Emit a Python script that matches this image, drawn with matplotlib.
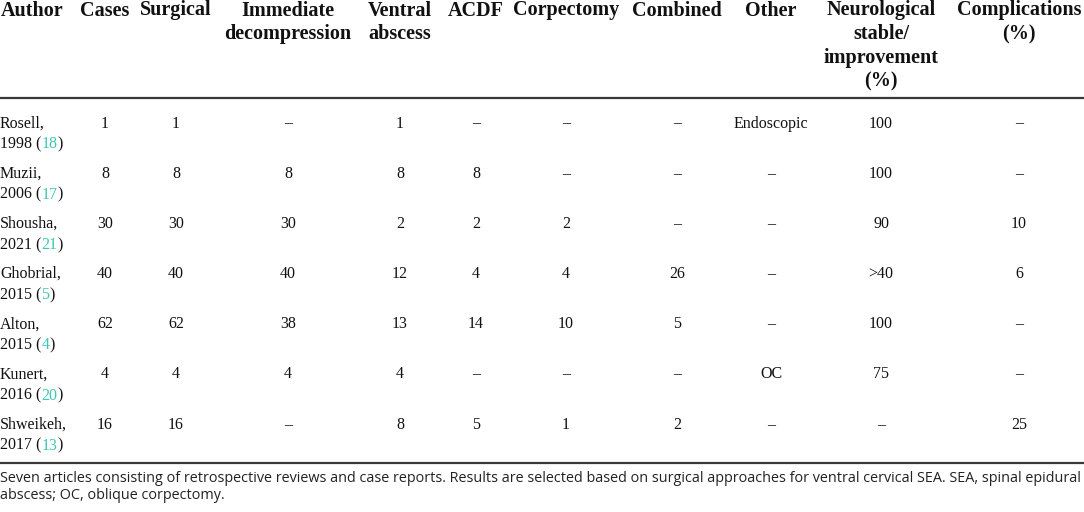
import matplotlib
matplotlib.use("Agg")
import matplotlib.pyplot as plt

# ---------------- data ----------------
headers = [
    ["Author"],
    ["Cases"],
    ["Surgical"],
    ["Immediate", "decompression"],
    ["Ventral", "abscess"],
    ["ACDF"],
    ["Corpectomy"],
    ["Combined"],
    ["Other"],
    ["Neurological", "stable/", "improvement", "(%)"],
    ["Complications", "(%)"],
]
authors = ["Rosell,", "Muzii,", "Shousha,", "Ghobrial,", "Alton,", "Kunert,", "Shweikeh,"]
years = ["1998", "2006", "2021", "2015", "2015", "2016", "2017"]
refs = ["18", "17", "21", "5", "4", "20", "13"]
cases = ["1", "8", "30", "40", "62", "4", "16"]
surgical = ["1", "8", "30", "40", "62", "4", "16"]
immediate = ["–", "8", "30", "40", "38", "4", "–"]
ventral = ["1", "8", "2", "12", "13", "4", "8"]
acdf = ["–", "8", "2", "4", "14", "–", "5"]
corpectomy = ["–", "–", "2", "4", "10", "–", "1"]
combined = ["–", "–", "–", "26", "5", "–", "2"]
other = ["Endoscopic", "–", "–", "–", "–", "OC", "–"]
neuro = ["100", "100", "90", ">40", "100", "75", "–"]
complications = ["–", "–", "10", "6", "–", "–", "25"]
footnote = [
    "Seven articles consisting of retrospective reviews and case reports. Results are selected based on surgical approaches for ventral cervical SEA. SEA, spinal epidural",
    "abscess; OC, oblique corpectomy.",
]

columns = [cases, surgical, immediate, ventral, acdf, corpectomy, combined, other, neuro, complications]

# ---------------- layout ----------------
W, H = 1084, 512
fig = plt.figure(figsize=(W / 100, H / 100), dpi=100)
ax = fig.add_axes([0, 0, 1, 1])
ax.set_xlim(0, W)
ax.set_ylim(H, 0)
ax.axis("off")

serif = ["Liberation Serif", "DejaVu Serif"]
sans = ["Open Sans", "DejaVu Sans"]
teal = "#3cc8b4"
ink = "#111111"
col_x = [0, 105, 176, 288, 400, 476, 566, 677, 771, 881, 1019]
head_base = [15.5, 39, 62.5, 86]
row_base0 = 127.5
row_pitch = 50.2
line2 = 21
data_fs = 11.5
head_fs = 14.5

# header
for ci, lines in enumerate(headers):
    for li, txt in enumerate(lines):
        if ci == 0:
            ax.text(col_x[ci] + 1, head_base[li], txt, ha="left", va="baseline",
                    fontsize=head_fs, fontweight="bold", family=serif, color=ink)
        else:
            ax.text(col_x[ci], head_base[li], txt, ha="center", va="baseline",
                    fontsize=head_fs, fontweight="bold", family=serif, color=ink)

# rules
ax.plot([0, W], [98, 98], color="#3a3a3a", lw=1.6, solid_capstyle="butt")
ax.plot([0, W], [463, 463], color="#3a3a3a", lw=1.6, solid_capstyle="butt")

fig.canvas.draw()
renderer = fig.canvas.get_renderer()

def width_of(s, **kw):
    t = ax.text(0, 0, s, **kw)
    w = t.get_window_extent(renderer).width
    t.remove()
    return w

# rows
for r in range(len(authors)):
    yb = row_base0 + r * row_pitch
    ax.text(0, yb, authors[r], ha="left", va="baseline", fontsize=data_fs,
            family=serif, color=ink)
    p1 = years[r] + " ("
    w1 = width_of(p1, fontsize=data_fs, family=serif)
    w2 = width_of(refs[r], fontsize=data_fs, family=serif)
    ax.text(0, yb + line2, p1, ha="left", va="baseline", fontsize=data_fs,
            family=serif, color=ink)
    ax.text(w1, yb + line2, refs[r], ha="left", va="baseline", fontsize=data_fs,
            family=serif, color=teal)
    ax.text(w1 + w2, yb + line2, ")", ha="left", va="baseline", fontsize=data_fs,
            family=serif, color=ink)
    for ci, col in enumerate(columns):
        ax.text(col_x[ci + 1], yb, col[r], ha="center", va="baseline",
                fontsize=data_fs, family=serif, color=ink)

# footnote, first line fitted to width
wpx = width_of(footnote[0], fontsize=10, family=sans)
fs = 10 * 1082 / wpx
ax.text(0, 481.5, footnote[0], ha="left", va="baseline", fontsize=fs,
        family=sans, color="#222222")
ax.text(0, 499, footnote[1], ha="left", va="baseline", fontsize=fs,
        family=sans, color="#222222")

fig.savefig("out.png", dpi=100)
